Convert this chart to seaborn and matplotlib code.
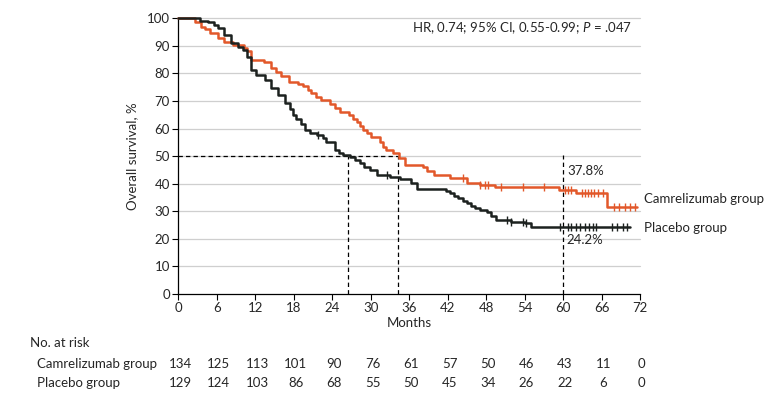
import numpy as np
import pandas as pd
import matplotlib
matplotlib.use("Agg")
import matplotlib.pyplot as plt
import matplotlib.transforms as mtransforms
import seaborn as sns

# ── data ────────────────────────────────────────────────────
camr_t = [0, 2.6, 3.5, 4.2, 5.0, 6.2, 7.2, 8.5, 10.3, 10.8, 11.4, 13.3, 14.5, 15.3,
          16.0, 17.3, 18.6, 19.4, 20.2, 20.7, 21.5, 22.3, 23.6, 24.5, 25.2, 26.7,
          27.3, 27.8, 28.3, 28.8, 29.5, 30.1, 31.4, 32.0, 32.4, 33.5, 34.5, 35.3,
          38.2, 38.8, 39.9, 42.4, 45.0, 47.0, 49.4, 59.3, 62.0, 66.8, 71.6]
camr_s = [100, 98.5, 97, 96, 94.5, 93, 91.5, 90.3, 89.2, 88, 85, 84.3, 82, 80.5,
          79, 77, 76, 75.5, 74, 73, 71.5, 70.5, 69, 67.5, 66, 65,
          63.5, 62.5, 61, 59.5, 58.5, 57, 55.3, 53.5, 52.2, 51, 49.2, 46.8,
          46.0, 44.5, 43.2, 42.0, 40.2, 39.5, 38.9, 37.8, 36.5, 31.7, 31.7]

plac_t = [0, 3.4, 4.7, 5.5, 6.2, 7.2, 8.3, 9.3, 10.1, 10.7, 11.4, 12.2, 13.5, 14.5,
          15.6, 16.6, 17.4, 17.9, 18.4, 19.2, 19.8, 20.5, 21.6, 22.5, 23.1, 24.4,
          25.0, 25.7, 26.8, 27.5, 28.3, 29.0, 29.9, 31.0, 33.0, 34.6, 36.3, 37.2,
          41.8, 42.4, 43.0, 43.7, 44.4, 45.0, 45.6, 46.3, 47.0, 48.1, 48.8, 49.5,
          51.9, 54.0, 55.0, 70.4]
plac_s = [100, 99, 98.5, 97.5, 96.4, 94, 91, 89.5, 88.6, 86, 81.2, 79.4, 77.6, 74.6,
          72.2, 69.3, 67, 65, 63.5, 61.5, 59.5, 58.5, 57.7, 56.5, 55.3, 52.2,
          51.3, 50.4, 49.6, 48.5, 47.4, 46.2, 45, 43.2, 42.5, 41.6, 40.2, 38.0,
          37.2, 36.5, 35.5, 34.7, 33.8, 32.9, 32.0, 31.1, 30.5, 29.9, 28.4, 26.8,
          26.2, 25.6, 24.2, 24.2]

camr_cens = [44.4, 47.0, 47.8, 48.3, 50.4, 53.7, 57.1, 60.3, 60.8, 61.3, 62.9, 63.4,
             63.9, 64.4, 64.9, 65.5, 66.2, 68.0, 68.8, 69.6, 70.4, 71.2]
plac_cens = [21.8, 32.5, 51.2, 51.9, 53.7, 54.3, 59.5, 60.7, 61.3, 62.0, 62.6, 63.4,
             64.0, 64.6, 65.2, 67.6, 68.4, 69.3, 70.0]

median_camr = 34.3
median_plac = 26.4

risk_months = [0, 6, 12, 18, 24, 30, 36, 42, 48, 54, 60, 66, 72]
risk_camr = [134, 125, 113, 101, 90, 76, 61, 57, 50, 46, 43, 11, 0]
risk_plac = [129, 124, 103, 86, 68, 55, 50, 45, 34, 26, 22, 6, 0]

ORANGE = "#E2582A"
DARK = "#1C211F"
FS = 9.5

sns.set_style("white")
plt.rcParams["font.family"] = ["Lato", "DejaVu Sans"]
plt.rcParams["mathtext.fontset"] = "custom"
plt.rcParams["mathtext.it"] = "Lato:italic"
plt.rcParams["font.size"] = FS

df = pd.concat([
    pd.DataFrame({"month": camr_t, "surv": camr_s, "group": "Camrelizumab group"}),
    pd.DataFrame({"month": plac_t, "surv": plac_s, "group": "Placebo group"}),
])

fig = plt.figure(figsize=(7.8, 3.98), dpi=100)
ax = fig.add_axes([0.2285, 0.2613, 0.592, 0.6927])

# gridlines
for yv in range(10, 101, 10):
    ax.axhline(yv, color="#cfcfcf", linewidth=0.9, zorder=0)

sns.lineplot(data=df, x="month", y="surv", hue="group",
             palette={"Camrelizumab group": ORANGE, "Placebo group": DARK},
             estimator=None, sort=False, drawstyle="steps-post",
             linewidth=1.8, legend=False, ax=ax, zorder=3)
for ln in ax.get_lines():
    ln.set_clip_on(False)


def step_at(ts, ss, x):
    idx = np.searchsorted(ts, x, side="right") - 1
    return np.asarray(ss)[idx]


ax.plot(camr_cens, step_at(camr_t, camr_s, camr_cens), linestyle="none",
        marker="|", markersize=6, markeredgewidth=1.0, color=ORANGE, zorder=4)
ax.plot(plac_cens, step_at(plac_t, plac_s, plac_cens), linestyle="none",
        marker="|", markersize=6, markeredgewidth=1.0, color=DARK, zorder=4)

# median / landmark dashed lines
dash = dict(color="black", linestyle=(0, (3.5, 2.5)), linewidth=0.9, zorder=2)
ax.plot([0, median_camr], [50, 50], **dash)
ax.plot([median_plac, median_plac], [0, 50], **dash)
ax.plot([median_camr, median_camr], [0, 50], **dash)
ax.plot([60, 60], [0, 50.5], **dash)

ax.set_xlim(0, 72)
ax.set_ylim(0, 100)
ax.set_xticks(range(0, 73, 6))
ax.set_yticks(range(0, 101, 10))
ax.tick_params(axis="both", direction="out", length=4, width=0.8, color="black",
               labelsize=FS, pad=2, bottom=True, left=True)
for side in ["top", "right"]:
    ax.spines[side].set_visible(False)
for side in ["left", "bottom"]:
    ax.spines[side].set_color("black")
    ax.spines[side].set_linewidth(0.9)
ax.set_xlabel("Months", fontsize=FS, labelpad=2)
ax.set_ylabel("Overall survival, %", fontsize=FS, labelpad=6)

ax.text(36.5, 96.5, "HR, 0.74; 95% CI, 0.55-0.99; $\\it{P}$ = .047", fontsize=FS,
        ha="left", va="center")
ax.text(60.6, 44.5, "37.8%", fontsize=FS, ha="left", va="center")
ax.text(60.6, 19.5, "24.2%", fontsize=FS, ha="left", va="center")
ax.text(72.7, 34.5, "Camrelizumab group", fontsize=FS, ha="left", va="center")
ax.text(72.7, 24, "Placebo group", fontsize=FS, ha="left", va="center")

# number at risk table
trans = mtransforms.blended_transform_factory(ax.transData, ax.transAxes)
fig.text(30 / 780, 1 - 343 / 398, "No. at risk", fontsize=FS, ha="left", va="center")
fig.text(37 / 780, 1 - 364 / 398, "Camrelizumab group", fontsize=FS, ha="left", va="center")
fig.text(37 / 780, 1 - 383 / 398, "Placebo group", fontsize=FS, ha="left", va="center")
y_camr = (294 - 364) / 275.7
y_plac = (294 - 383) / 275.7
for m, a, b in zip(risk_months, risk_camr, risk_plac):
    ax.text(m + 0.3, y_camr, str(a), transform=trans, fontsize=FS, ha="center",
            va="center", clip_on=False)
    ax.text(m + 0.3, y_plac, str(b), transform=trans, fontsize=FS, ha="center",
            va="center", clip_on=False)

fig.savefig("out.png", dpi=100)
